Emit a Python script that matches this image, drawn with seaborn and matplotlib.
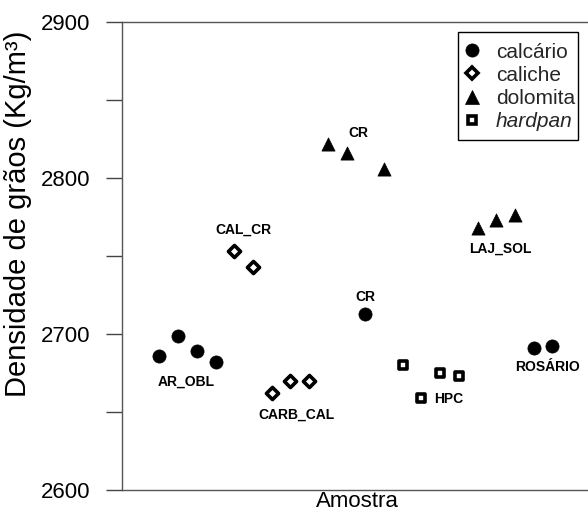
import matplotlib
matplotlib.use("Agg")
import matplotlib.pyplot as plt
import seaborn as sns
import pandas as pd
from matplotlib.ticker import MultipleLocator, NullLocator
from matplotlib.lines import Line2D
from matplotlib.patches import Rectangle

# ---- data ----
sample_index = list(range(1, 23))
rock_type = ["calcário", "calcário", "calcário", "calcário",
             "caliche", "caliche", "caliche", "caliche", "caliche",
             "dolomita", "dolomita", "calcário", "dolomita",
             "hardpan", "hardpan", "hardpan", "hardpan",
             "dolomita", "dolomita", "dolomita",
             "calcário", "calcário"]
density = [2686, 2699, 2689, 2682,
           2753, 2743, 2662, 2670, 2670,
           2822, 2816, 2713, 2806,
           2680, 2659, 2675, 2673,
           2768, 2773, 2776,
           2691, 2692]

group_labels = ["AR_OBL", "CAL_CR", "CARB_CAL", "CR", "CR", "HPC", "LAJ_SOL", "ROSÁRIO"]
label_x = [2.41, 5.48, 8.32, 11.61, 12.02, 16.48, 19.24, 21.75]
label_y = [2669.4, 2767.1, 2648.1, 2829.0, 2723.9, 2658.5, 2754.9, 2679.0]

legend_names = ["calcário", "caliche", "dolomita", "hardpan"]

df = pd.DataFrame({"Amostra": sample_index, "tipo": rock_type, "dens": density})

sns.set_theme(style="white")
plt.rcParams["font.family"] = ["Liberation Sans", "DejaVu Sans"]

fig = plt.figure(figsize=(5.88, 5.12), dpi=100)
ax = fig.add_axes([122 / 588, 1 - 490 / 512, 1 - 122 / 588, 468 / 512])

styles = {
    "calcário": dict(marker="o", s=90, facecolor="black", edgecolor="black", linewidth=0.5),
    "caliche": dict(marker="D", s=38, facecolor="white", edgecolor="black", linewidth=2.6),
    "dolomita": dict(marker="^", s=90, facecolor="black", edgecolor="black", linewidth=0.5),
    "hardpan": dict(marker="s", s=40, facecolor="white", edgecolor="black", linewidth=2.6),
}
for name in legend_names:
    sub = df[df["tipo"] == name]
    st = styles[name]
    sns.scatterplot(data=sub, x="Amostra", y="dens", ax=ax, marker=st["marker"], s=st["s"],
                    color=st["facecolor"], edgecolor=st["edgecolor"], linewidth=st["linewidth"],
                    legend=False, zorder=3)

for t, lx, ly in zip(group_labels, label_x, label_y):
    ax.text(lx, ly, t, ha="center", va="center", fontsize=10, fontweight="bold", color="black")

ax.set_xlim(-1, 23.9)
ax.set_ylim(2600, 2900)
ax.xaxis.set_major_locator(NullLocator())
ax.yaxis.set_major_locator(MultipleLocator(100))
ax.yaxis.set_minor_locator(MultipleLocator(50))
ax.tick_params(axis="y", which="both", direction="out", length=11.5, width=1.0, color="#444444",
               left=True, labelsize=16, pad=11.5, labelcolor="black")
ax.spines["right"].set_visible(False)
for sp in ["left", "top", "bottom"]:
    ax.spines[sp].set_color("#555555")
    ax.spines[sp].set_linewidth(1.0)

ax.set_xlabel("Amostra", fontsize=16, color="black")
ax.xaxis.set_label_coords(0.5054, -0.002)
ax.set_ylabel("Densidade de grãos (Kg/m³)", fontsize=21, color="black")
ax.yaxis.set_label_coords(-0.193, 0.59)

handles = []
for name in legend_names:
    st = styles[name]
    ms = (st["s"] ** 0.5)
    handles.append(Line2D([], [], linestyle="none", marker=st["marker"], markersize=ms,
                          markerfacecolor=st["facecolor"], markeredgecolor=st["edgecolor"],
                          markeredgewidth=st["linewidth"]))
leg = ax.legend(handles, legend_names, loc="upper left", bbox_to_anchor=(0.7326, 0.956),
                borderaxespad=0, fontsize=15, frameon=False,
                handlelength=0.8, handletextpad=0.75, labelspacing=0.2, borderpad=0)
for txt in leg.get_texts():
    if txt.get_text() == "hardpan":
        txt.set_style("italic")
ax.add_patch(Rectangle((0.7217, 0.7479), 0.9785 - 0.7217, 0.9793 - 0.7479,
                       transform=ax.transAxes, fill=False, edgecolor="black",
                       linewidth=1.0, zorder=5))

fig.savefig("out.png", dpi=100)
